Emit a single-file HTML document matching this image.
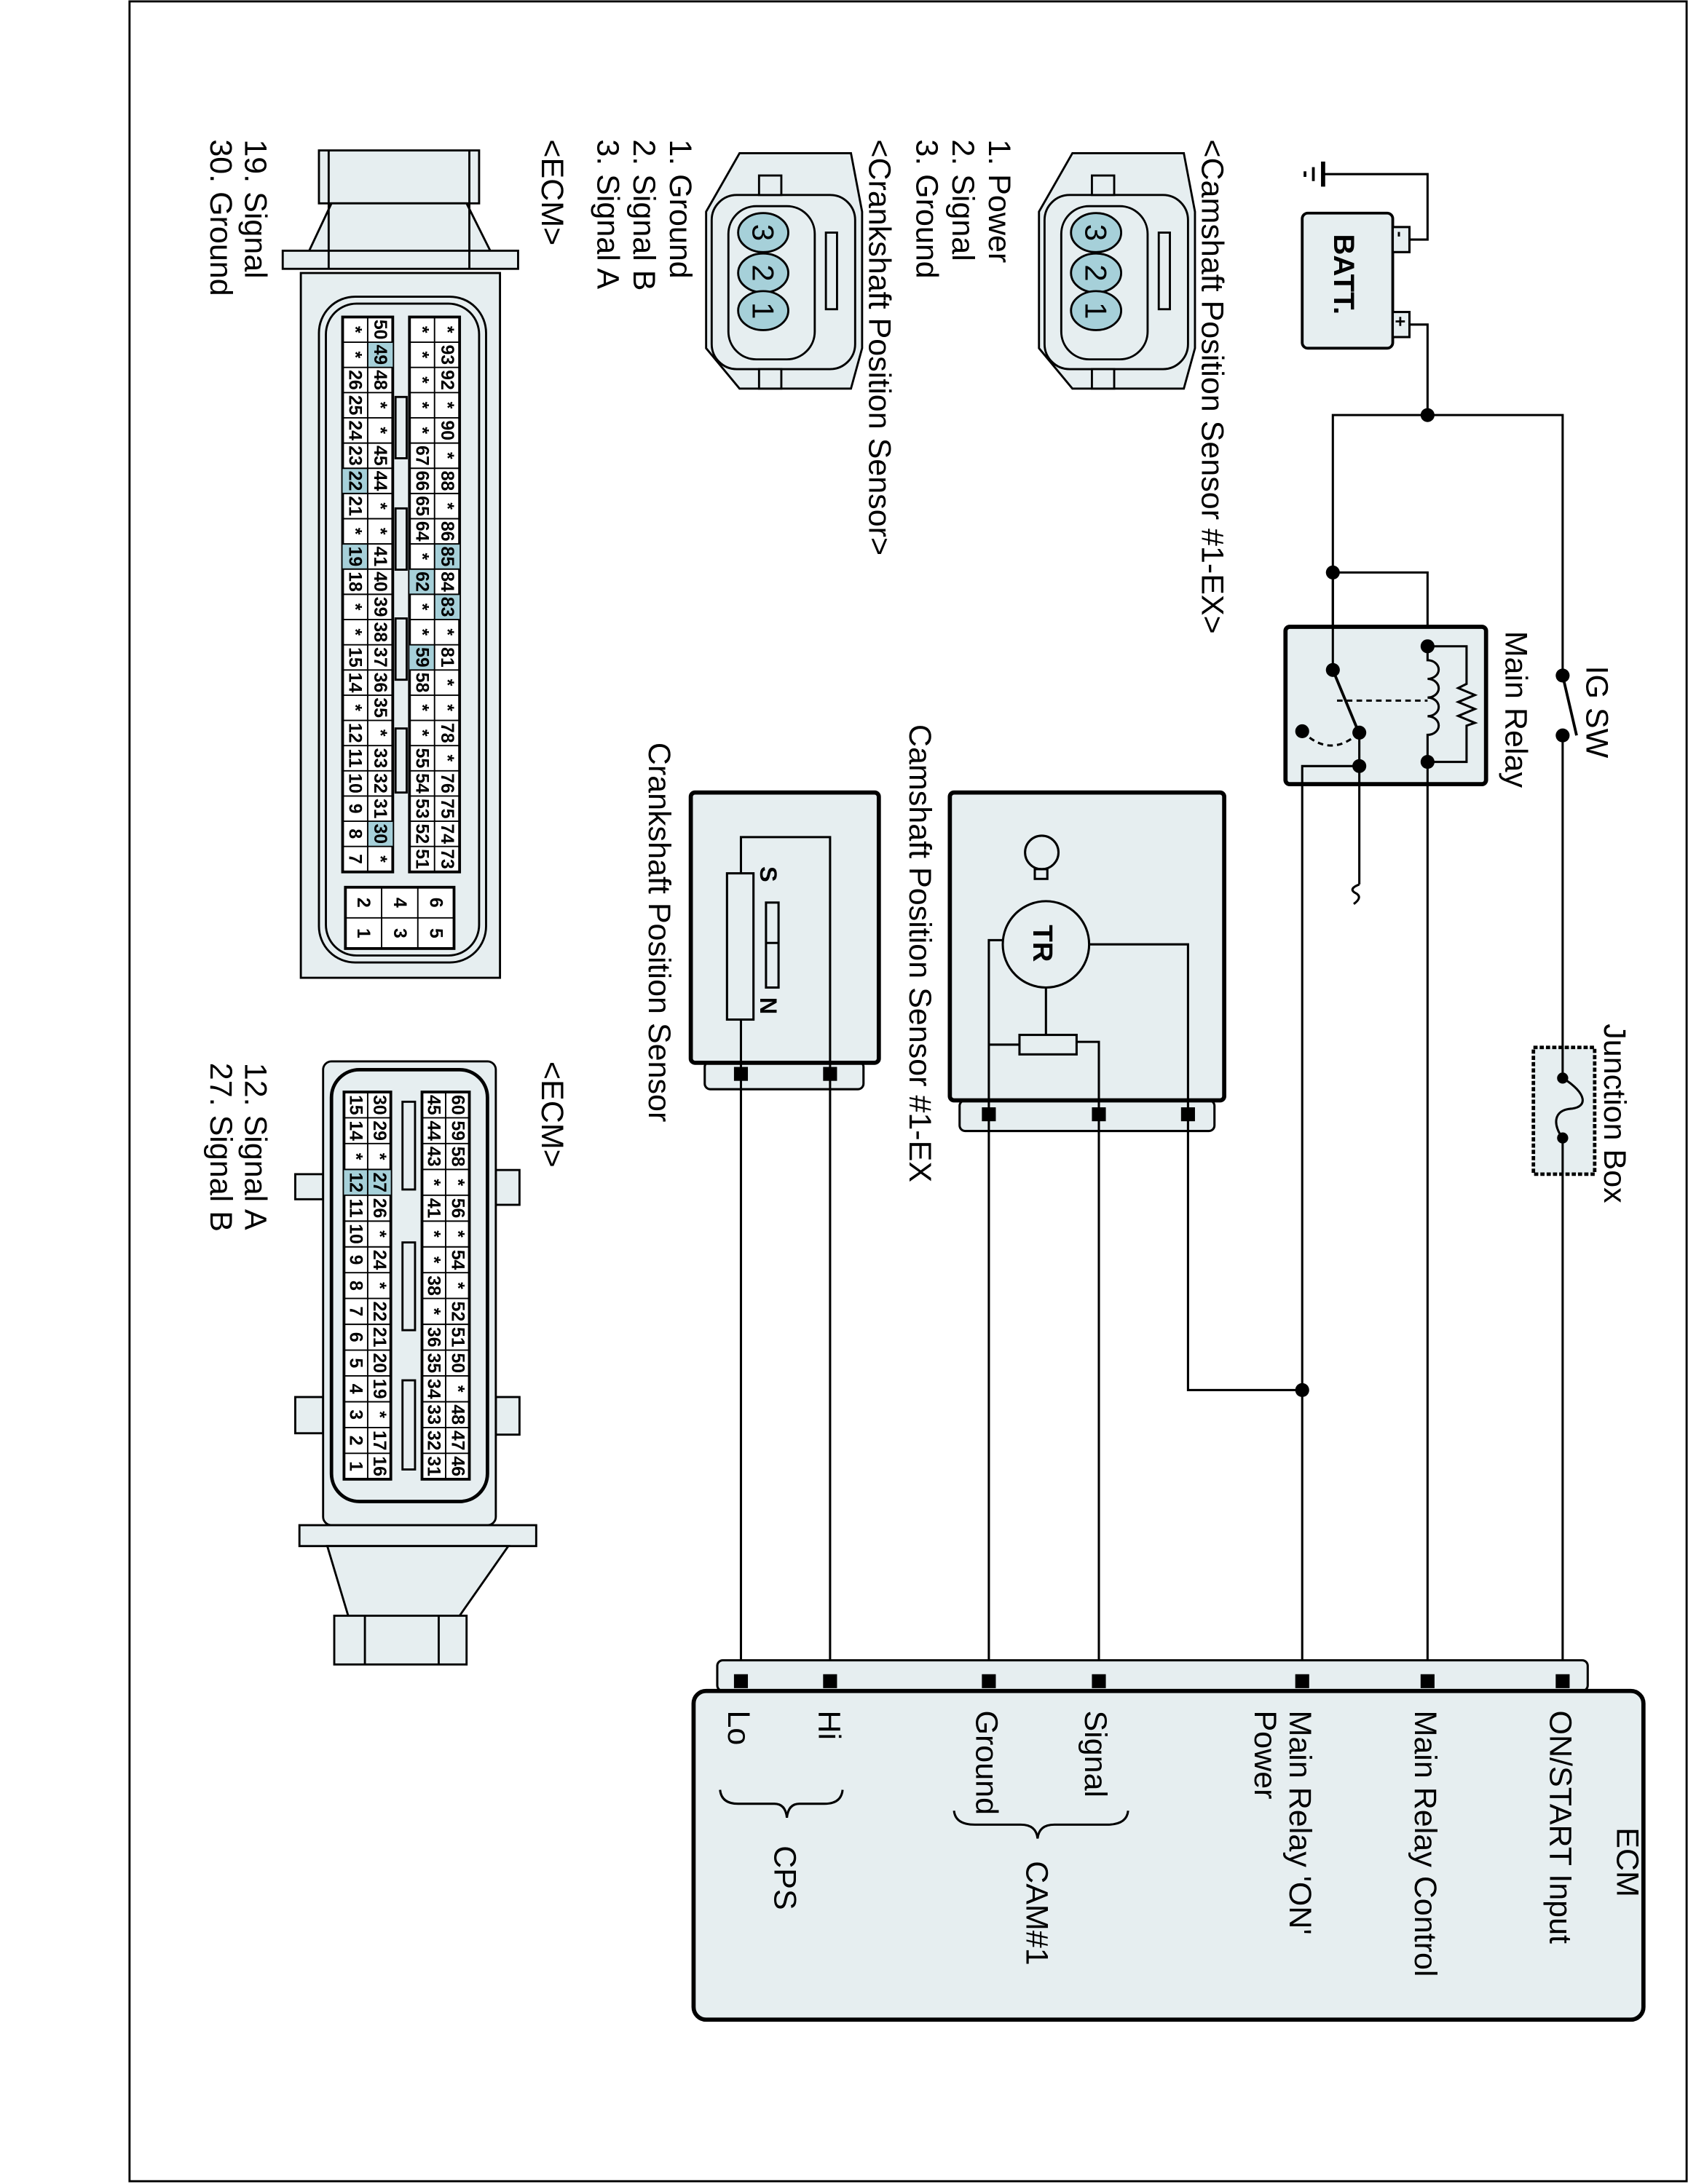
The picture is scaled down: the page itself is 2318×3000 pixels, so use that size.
<!DOCTYPE html>
<html><head><meta charset="utf-8"><style>
html,body{margin:0;padding:0;background:#fff}
svg{display:block}
text{font-family:"Liberation Sans",Arial,sans-serif;fill:#000}
.c{font-size:13px;font-weight:bold;text-anchor:middle;dominant-baseline:central}
.p{font-size:22px;text-anchor:middle;dominant-baseline:central}
.l{font-size:22.5px}
</style></head><body>
<svg width="2318" height="3000" viewBox="0 0 1212 1568" preserveAspectRatio="none" xmlns="http://www.w3.org/2000/svg">
<rect x="0" y="0" width="1212" height="1568" fill="#fff"/>
<rect x="93" y="1" width="1118" height="1565" fill="none" stroke="#000" stroke-width="1.5"/>

<g fill="none" stroke="#000" stroke-width="1.6">
<line x1="950" y1="116" x2="950" y2="134" stroke-width="3"/>
<line x1="943" y1="120" x2="943" y2="130" stroke-width="2"/>
<line x1="937" y1="123" x2="937" y2="127" stroke-width="2"/>
<polyline points="950,125 1025,125 1025,172 1012,172"/>
<polyline points="1012,233 1025,233 1025,298"/>
<rect x="935" y="153" width="65" height="97" rx="4" fill="#e6eef0" stroke-width="2"/>
<rect x="1000" y="163" width="12" height="18" fill="#e6eef0"/>
<rect x="1000" y="224" width="12" height="18" fill="#e6eef0"/>
<polyline points="957,481 957,298 1122,298 1122,485"/>
<polyline points="957,411 1025,411 1025,464"/>
<rect x="923" y="450" width="144" height="113" rx="3" fill="#e6eef0" stroke-width="3"/>
<line x1="957" y1="411" x2="957" y2="481"/>
<line x1="957" y1="481" x2="974" y2="522" stroke-width="2"/>
<line x1="960" y1="503" x2="1025" y2="503" stroke-dasharray="4,3"/>
<path d="M935,525 Q955,545 976,526" stroke-dasharray="4,3"/>
<path d="M1025,464 L1025,474 a8,6.7 0 0 1 0,13.4 a8,6.7 0 0 1 0,13.4 a8,6.7 0 0 1 0,13.4 a8,6.7 0 0 1 0,13.4 L1025,547"/>
<polyline points="1025,464 1053,464 1053,491 1047,494 1059,499 1047,504 1059,509 1047,514 1059,519 1053,521 1053,547 1025,547"/>
<polyline points="976,526 976,550 935,550 935,1207"/>
<polyline points="976,550 976,635"/>
<path d="M976,635 q-8,3 -3,6 q6,3 -1,8"/>
<line x1="1025" y1="547" x2="1025" y2="1207"/>
<line x1="1122" y1="485" x2="1132" y2="528" stroke-width="2"/>
<line x1="1122" y1="528" x2="1122" y2="1207"/>
<rect x="1101" y="752" width="44" height="91" fill="#e6eef0" stroke-dasharray="3,1.5" stroke-width="2.5"/>
<line x1="1122" y1="752" x2="1122" y2="774"/>
<line x1="1122" y1="817" x2="1122" y2="843"/>
<path d="M1122,774 C1140,785 1140,795 1128,796 C1115,797 1115,808 1122,817"/>
<rect x="689" y="790" width="183" height="22" rx="4" fill="#e6eef0"/>
<rect x="682" y="569" width="197" height="221" rx="3" fill="#e6eef0" stroke-width="3"/>
<circle cx="751" cy="678" r="31" fill="#e6eef0"/>
<circle cx="748" cy="612" r="12"/>
<rect x="743" y="624" width="9" height="7"/>
<polyline points="782,678 853,678 853,800"/>
<polyline points="720,675 710,675 710,800"/>
<line x1="751" y1="709" x2="751" y2="743"/>
<rect x="732" y="743" width="41" height="14" fill="#e6eef0"/>
<line x1="710" y1="750" x2="732" y2="750"/>
<polyline points="773,748 789,748 789,800"/>
<line x1="710" y1="800" x2="710" y2="1207"/>
<line x1="789" y1="800" x2="789" y2="1207"/>
<polyline points="853,800 853,998 935,998"/>
<rect x="506" y="762" width="114" height="20" rx="4" fill="#e6eef0"/>
<rect x="496" y="569" width="135" height="194" rx="3" fill="#e6eef0" stroke-width="3"/>
<polyline points="532,627 532,601 596,601 596,771"/>
<rect x="522" y="627" width="19" height="105" fill="#e6eef0"/>
<rect x="550" y="648" width="9" height="61"/>
<line x1="550" y1="677" x2="559" y2="677"/>
<line x1="532" y1="732" x2="532" y2="1207"/>
<line x1="596" y1="771" x2="596" y2="1207"/>
<rect x="515" y="1192" width="625" height="22" rx="4" fill="#e6eef0"/>
<rect x="498" y="1214" width="682" height="236" rx="9" fill="#e6eef0" stroke-width="3"/>
<path d="M685,1300 Q686,1310 700,1310 L733,1310 Q744,1310 745,1320 Q746,1310 757,1310 L795,1310 Q809,1310 810,1300"/>
<path d="M517,1285 Q518,1295 530,1295 L556,1295 Q564,1295 565,1305 Q566,1295 574,1295 L592,1295 Q604,1295 605,1285"/>
</g>
<g fill="#000">
<circle cx="1025" cy="298" r="5"/><circle cx="957" cy="411" r="5"/>
<circle cx="1025" cy="464" r="5"/><circle cx="1025" cy="547" r="5"/>
<circle cx="957" cy="481" r="5"/><circle cx="976" cy="526" r="5"/>
<circle cx="976" cy="550" r="5"/><circle cx="935" cy="525" r="5"/>
<circle cx="935" cy="998" r="5"/>
<circle cx="1122" cy="485" r="5"/><circle cx="1122" cy="528" r="5"/>
<circle cx="1122" cy="774" r="4"/><circle cx="1122" cy="817" r="4"/>
<rect x="705" y="795" width="10" height="10"/><rect x="784" y="795" width="10" height="10"/><rect x="848" y="795" width="10" height="10"/>
<rect x="527" y="766" width="10" height="10"/><rect x="591" y="766" width="10" height="10"/>
<rect x="527" y="1202" width="10" height="10"/><rect x="591" y="1202" width="10" height="10"/>
<rect x="705" y="1202" width="10" height="10"/><rect x="784" y="1202" width="10" height="10"/>
<rect x="930" y="1202" width="10" height="10"/><rect x="1020" y="1202" width="10" height="10"/>
<rect x="1117" y="1202" width="10" height="10"/>
</g>

<g stroke="#000" stroke-width="1.5" fill="#e6eef0">
<polygon points="770,110 850,110 858,152 858,250 850,279 770,279 746,250 746,152"/>
<rect x="750" y="140" width="103" height="125" rx="18"/>
<rect x="762" y="148" width="62" height="110" rx="20"/>
<rect x="784" y="126" width="16" height="14"/><rect x="784" y="265" width="16" height="14"/>
<rect x="832" y="167" width="8" height="55" fill="none"/>
<ellipse cx="787" cy="167" rx="18" ry="14" fill="#a6d0d9"/>
<ellipse cx="787" cy="196" rx="18" ry="14" fill="#a6d0d9"/>
<ellipse cx="787" cy="223" rx="18" ry="14" fill="#a6d0d9"/>
<polygon points="531,110 611,110 619,152 619,250 611,279 531,279 507,250 507,152"/>
<rect x="511" y="140" width="103" height="125" rx="18"/>
<rect x="523" y="148" width="62" height="110" rx="20"/>
<rect x="545" y="126" width="16" height="14"/><rect x="545" y="265" width="16" height="14"/>
<rect x="593" y="167" width="8" height="55" fill="none"/>
<ellipse cx="548" cy="167" rx="18" ry="14" fill="#a6d0d9"/>
<ellipse cx="548" cy="196" rx="18" ry="14" fill="#a6d0d9"/>
<ellipse cx="548" cy="223" rx="18" ry="14" fill="#a6d0d9"/>
</g>

<g stroke="#000" stroke-width="1.5" fill="#e6eef0">
<rect x="229" y="108" width="115" height="38"/>
<polygon points="238,146 335,146 352,180 222,180"/>
<rect x="203" y="180" width="169" height="13"/>
<line x1="236" y1="108" x2="236" y2="193"/><line x1="337" y1="108" x2="337" y2="193"/>
<rect x="216" y="196" width="143" height="506"/>
<rect x="229" y="213" width="120" height="478" rx="26"/>
<rect x="234" y="218" width="110" height="468" rx="22"/>
<rect x="284" y="285" width="8" height="44"/><rect x="284" y="365" width="8" height="44"/>
<rect x="284" y="444" width="8" height="44"/><rect x="284" y="523" width="8" height="46"/>
<rect x="246" y="227.6" width="36" height="398.4" fill="#fff" stroke-width="2"/>
<rect x="294" y="227.6" width="36" height="398.4" fill="#fff" stroke-width="2"/>
<rect x="248" y="637" width="78" height="44" fill="#fff" stroke-width="2"/>
</g>
<g fill="#a6d0d9">
<rect x="264" y="245.7" width="18" height="18.1"/><rect x="264" y="589.6" width="18" height="18.1"/>
<rect x="246" y="336.2" width="18" height="18.1"/><rect x="246" y="390.5" width="18" height="18.1"/>
<rect x="294" y="408.6" width="18" height="18.1"/><rect x="294" y="462.9" width="18" height="18.1"/>
<rect x="312" y="390.5" width="18" height="18.1"/><rect x="312" y="426.7" width="18" height="18.1"/>
</g>
<g stroke="#000" stroke-width="1" fill="none">
<line x1="264" y1="227.6" x2="264" y2="626"/><line x1="312" y1="227.6" x2="312" y2="626"/>
<path d="M246,245.7h36M246,263.8h36M246,281.9h36M246,300h36M246,318.1h36M246,336.2h36M246,354.3h36M246,372.4h36M246,390.5h36M246,408.6h36M246,426.7h36M246,444.8h36M246,462.9h36M246,481h36M246,499.1h36M246,517.2h36M246,535.3h36M246,553.4h36M246,571.5h36M246,589.6h36M246,607.7h36"/>
<path d="M294,245.7h36M294,263.8h36M294,281.9h36M294,300h36M294,318.1h36M294,336.2h36M294,354.3h36M294,372.4h36M294,390.5h36M294,408.6h36M294,426.7h36M294,444.8h36M294,462.9h36M294,481h36M294,499.1h36M294,517.2h36M294,535.3h36M294,553.4h36M294,571.5h36M294,589.6h36M294,607.7h36"/>
<path d="M248,659h78M274,637v44M300,637v44"/>
</g>

<g stroke="#000" stroke-width="1.5" fill="#e6eef0">
<rect x="212" y="843" width="20" height="18"/><rect x="212" y="1003" width="20" height="26"/>
<rect x="356" y="840" width="17" height="25"/><rect x="356" y="1003" width="17" height="27"/>
<rect x="232" y="762" width="124" height="333" rx="6"/>
<rect x="238" y="768" width="112" height="310" rx="20" stroke-width="2.5"/>
<rect x="215" y="1095" width="170" height="15"/>
<polygon points="235,1110 365,1110 330,1160 250,1160"/>
<rect x="240" y="1160" width="95" height="35"/>
<line x1="262" y1="1160" x2="262" y2="1195"/><line x1="315" y1="1160" x2="315" y2="1195"/>
<rect x="289" y="791" width="9" height="63"/><rect x="289" y="892" width="9" height="63"/><rect x="289" y="991" width="9" height="64"/>
<rect x="247" y="784" width="33.6" height="278" fill="#fff" stroke-width="2"/>
<rect x="303" y="784" width="34" height="278" fill="#fff" stroke-width="2"/>
</g>
<g fill="#a6d0d9"><rect x="247" y="839.6" width="33.6" height="18.5"/></g>
<g stroke="#000" stroke-width="1" fill="none">
<line x1="264" y1="784" x2="264" y2="1062"/><line x1="320" y1="784" x2="320" y2="1062"/>
<path d="M247,802.5h34M247,821h34M247,839.6h34M247,858.1h34M247,876.7h34M247,895.2h34M247,913.7h34M247,932.2h34M247,950.8h34M247,969.3h34M247,987.8h34M247,1006.4h34M247,1024.9h34M247,1043.4h34"/>
<path d="M303,802.5h34M303,821h34M303,839.6h34M303,858.1h34M303,876.7h34M303,895.2h34M303,913.7h34M303,932.2h34M303,950.8h34M303,969.3h34M303,987.8h34M303,1006.4h34M303,1024.9h34M303,1043.4h34"/>
</g>

<g transform="rotate(90)">
<text class="l" x="100" y="-863">&lt;Camshaft Position Sensor #1-EX&gt;</text>
<text class="l" x="100" y="-710">1. Power</text>
<text class="l" x="100" y="-684">2. Signal</text>
<text class="l" x="100" y="-658">3. Ground</text>
<text class="l" x="100" y="-624">&lt;Crankshaft Position Sensor&gt;</text>
<text class="l" x="100" y="-481">1. Ground</text>
<text class="l" x="100" y="-455">2. Signal B</text>
<text class="l" x="100" y="-429">3. Signal A</text>
<text class="l" x="100" y="-389">&lt;ECM&gt;</text>
<text class="l" x="100" y="-176">19. Signal</text>
<text class="l" x="100" y="-151">30. Ground</text>
<text class="l" x="762" y="-389">&lt;ECM&gt;</text>
<text class="l" x="763" y="-176">12. Signal A</text>
<text class="l" x="763" y="-151">27. Signal B</text>
<text x="168" y="-958" font-size="21" font-weight="bold">BATT.</text>
<text x="166" y="-1001" font-size="13" font-weight="bold">-</text>
<text x="227" y="-1001" font-size="13" font-weight="bold">+</text>
<text class="l" x="478" y="-1139">IG SW</text>
<text class="l" x="453" y="-1081">Main Relay</text>
<text class="l" x="735" y="-1152">Junction Box</text>
<text class="l" x="520" y="-653">Camshaft Position Sensor #1-EX</text>
<text class="l" x="533" y="-466">Crankshaft Position Sensor</text>
<text x="664" y="-742" font-size="20" font-weight="bold">TR</text>
<text x="622" y="-546" font-size="17" font-weight="bold">S</text>
<text x="716" y="-546" font-size="17" font-weight="bold">N</text>
<text class="l" x="1312" y="-1161">ECM</text>
<text class="l" x="1228" y="-1113">ON/START Input</text>
<text class="l" x="1228" y="-1016">Main Relay Control</text>
<text class="l" x="1228" y="-926">Main Relay 'ON'</text>
<text class="l" x="1228" y="-901">Power</text>
<text class="l" x="1228" y="-779">Signal</text>
<text class="l" x="1228" y="-701">Ground</text>
<text class="l" x="1228" y="-588">Hi</text>
<text class="l" x="1228" y="-523">Lo</text>
<text class="l" x="1336" y="-737">CAM#1</text>
<text class="l" x="1325" y="-556">CPS</text>
<text class="p" x="167" y="-787">3</text>
<text class="p" x="196" y="-787">2</text>
<text class="p" x="223" y="-787">1</text>
<text class="p" x="167" y="-548">3</text>
<text class="p" x="196" y="-548">2</text>
<text class="p" x="223" y="-548">1</text>

<g>
<text class="c" x="236.6" y="-255">*</text><text class="c" x="254.7" y="-255">*</text><text class="c" x="272.8" y="-255">26</text><text class="c" x="290.9" y="-255">25</text><text class="c" x="309" y="-255">24</text><text class="c" x="327.1" y="-255">23</text><text class="c" x="345.2" y="-255">22</text><text class="c" x="363.3" y="-255">21</text><text class="c" x="381.4" y="-255">*</text><text class="c" x="399.5" y="-255">19</text><text class="c" x="417.6" y="-255">18</text><text class="c" x="435.7" y="-255">*</text><text class="c" x="453.8" y="-255">*</text><text class="c" x="471.9" y="-255">15</text><text class="c" x="490" y="-255">14</text><text class="c" x="508.1" y="-255">*</text><text class="c" x="526.2" y="-255">12</text><text class="c" x="544.3" y="-255">11</text><text class="c" x="562.4" y="-255">10</text><text class="c" x="580.5" y="-255">9</text><text class="c" x="598.6" y="-255">8</text><text class="c" x="616.7" y="-255">7</text>
<text class="c" x="236.6" y="-273">50</text><text class="c" x="254.7" y="-273">49</text><text class="c" x="272.8" y="-273">48</text><text class="c" x="290.9" y="-273">*</text><text class="c" x="309" y="-273">*</text><text class="c" x="327.1" y="-273">45</text><text class="c" x="345.2" y="-273">44</text><text class="c" x="363.3" y="-273">*</text><text class="c" x="381.4" y="-273">*</text><text class="c" x="399.5" y="-273">41</text><text class="c" x="417.6" y="-273">40</text><text class="c" x="435.7" y="-273">39</text><text class="c" x="453.8" y="-273">38</text><text class="c" x="471.9" y="-273">37</text><text class="c" x="490" y="-273">36</text><text class="c" x="508.1" y="-273">35</text><text class="c" x="526.2" y="-273">*</text><text class="c" x="544.3" y="-273">33</text><text class="c" x="562.4" y="-273">32</text><text class="c" x="580.5" y="-273">31</text><text class="c" x="598.6" y="-273">30</text><text class="c" x="616.7" y="-273">*</text>
<text class="c" x="236.6" y="-303">*</text><text class="c" x="254.7" y="-303">*</text><text class="c" x="272.8" y="-303">*</text><text class="c" x="290.9" y="-303">*</text><text class="c" x="309" y="-303">*</text><text class="c" x="327.1" y="-303">67</text><text class="c" x="345.2" y="-303">66</text><text class="c" x="363.3" y="-303">65</text><text class="c" x="381.4" y="-303">64</text><text class="c" x="399.5" y="-303">*</text><text class="c" x="417.6" y="-303">62</text><text class="c" x="435.7" y="-303">*</text><text class="c" x="453.8" y="-303">*</text><text class="c" x="471.9" y="-303">59</text><text class="c" x="490" y="-303">58</text><text class="c" x="508.1" y="-303">*</text><text class="c" x="526.2" y="-303">*</text><text class="c" x="544.3" y="-303">55</text><text class="c" x="562.4" y="-303">54</text><text class="c" x="580.5" y="-303">53</text><text class="c" x="598.6" y="-303">52</text><text class="c" x="616.7" y="-303">51</text>
<text class="c" x="236.6" y="-321">*</text><text class="c" x="254.7" y="-321">93</text><text class="c" x="272.8" y="-321">92</text><text class="c" x="290.9" y="-321">*</text><text class="c" x="309" y="-321">90</text><text class="c" x="327.1" y="-321">*</text><text class="c" x="345.2" y="-321">88</text><text class="c" x="363.3" y="-321">*</text><text class="c" x="381.4" y="-321">86</text><text class="c" x="399.5" y="-321">85</text><text class="c" x="417.6" y="-321">84</text><text class="c" x="435.7" y="-321">83</text><text class="c" x="453.8" y="-321">*</text><text class="c" x="471.9" y="-321">81</text><text class="c" x="490" y="-321">*</text><text class="c" x="508.1" y="-321">*</text><text class="c" x="526.2" y="-321">78</text><text class="c" x="544.3" y="-321">*</text><text class="c" x="562.4" y="-321">76</text><text class="c" x="580.5" y="-321">75</text><text class="c" x="598.6" y="-321">74</text><text class="c" x="616.7" y="-321">73</text>
<text class="c" x="648" y="-313">6</text><text class="c" x="670" y="-313">5</text>
<text class="c" x="648" y="-287">4</text><text class="c" x="670" y="-287">3</text>
<text class="c" x="648" y="-261">2</text><text class="c" x="670" y="-261">1</text>
<text class="c" x="793.3" y="-255.5">15</text><text class="c" x="811.8" y="-255.5">14</text><text class="c" x="830.3" y="-255.5">*</text><text class="c" x="848.9" y="-255.5">12</text><text class="c" x="867.4" y="-255.5">11</text><text class="c" x="885.9" y="-255.5">10</text><text class="c" x="904.5" y="-255.5">9</text><text class="c" x="923" y="-255.5">8</text><text class="c" x="941.5" y="-255.5">7</text><text class="c" x="960" y="-255.5">6</text><text class="c" x="978.6" y="-255.5">5</text><text class="c" x="997.1" y="-255.5">4</text><text class="c" x="1015.6" y="-255.5">3</text><text class="c" x="1034.2" y="-255.5">2</text><text class="c" x="1052.7" y="-255.5">1</text>
<text class="c" x="793.3" y="-272.3">30</text><text class="c" x="811.8" y="-272.3">29</text><text class="c" x="830.3" y="-272.3">*</text><text class="c" x="848.9" y="-272.3">27</text><text class="c" x="867.4" y="-272.3">26</text><text class="c" x="885.9" y="-272.3">*</text><text class="c" x="904.5" y="-272.3">24</text><text class="c" x="923" y="-272.3">*</text><text class="c" x="941.5" y="-272.3">22</text><text class="c" x="960" y="-272.3">21</text><text class="c" x="978.6" y="-272.3">20</text><text class="c" x="997.1" y="-272.3">19</text><text class="c" x="1015.6" y="-272.3">*</text><text class="c" x="1034.2" y="-272.3">17</text><text class="c" x="1052.7" y="-272.3">16</text>
<text class="c" x="793.3" y="-311.5">45</text><text class="c" x="811.8" y="-311.5">44</text><text class="c" x="830.3" y="-311.5">43</text><text class="c" x="848.9" y="-311.5">*</text><text class="c" x="867.4" y="-311.5">41</text><text class="c" x="885.9" y="-311.5">*</text><text class="c" x="904.5" y="-311.5">*</text><text class="c" x="923" y="-311.5">38</text><text class="c" x="941.5" y="-311.5">*</text><text class="c" x="960" y="-311.5">36</text><text class="c" x="978.6" y="-311.5">35</text><text class="c" x="997.1" y="-311.5">34</text><text class="c" x="1015.6" y="-311.5">33</text><text class="c" x="1034.2" y="-311.5">32</text><text class="c" x="1052.7" y="-311.5">31</text>
<text class="c" x="793.3" y="-328.5">60</text><text class="c" x="811.8" y="-328.5">59</text><text class="c" x="830.3" y="-328.5">58</text><text class="c" x="848.9" y="-328.5">*</text><text class="c" x="867.4" y="-328.5">56</text><text class="c" x="885.9" y="-328.5">*</text><text class="c" x="904.5" y="-328.5">54</text><text class="c" x="923" y="-328.5">*</text><text class="c" x="941.5" y="-328.5">52</text><text class="c" x="960" y="-328.5">51</text><text class="c" x="978.6" y="-328.5">50</text><text class="c" x="997.1" y="-328.5">*</text><text class="c" x="1015.6" y="-328.5">48</text><text class="c" x="1034.2" y="-328.5">47</text><text class="c" x="1052.7" y="-328.5">46</text>
</g>
</g>
</svg>
</body></html>
